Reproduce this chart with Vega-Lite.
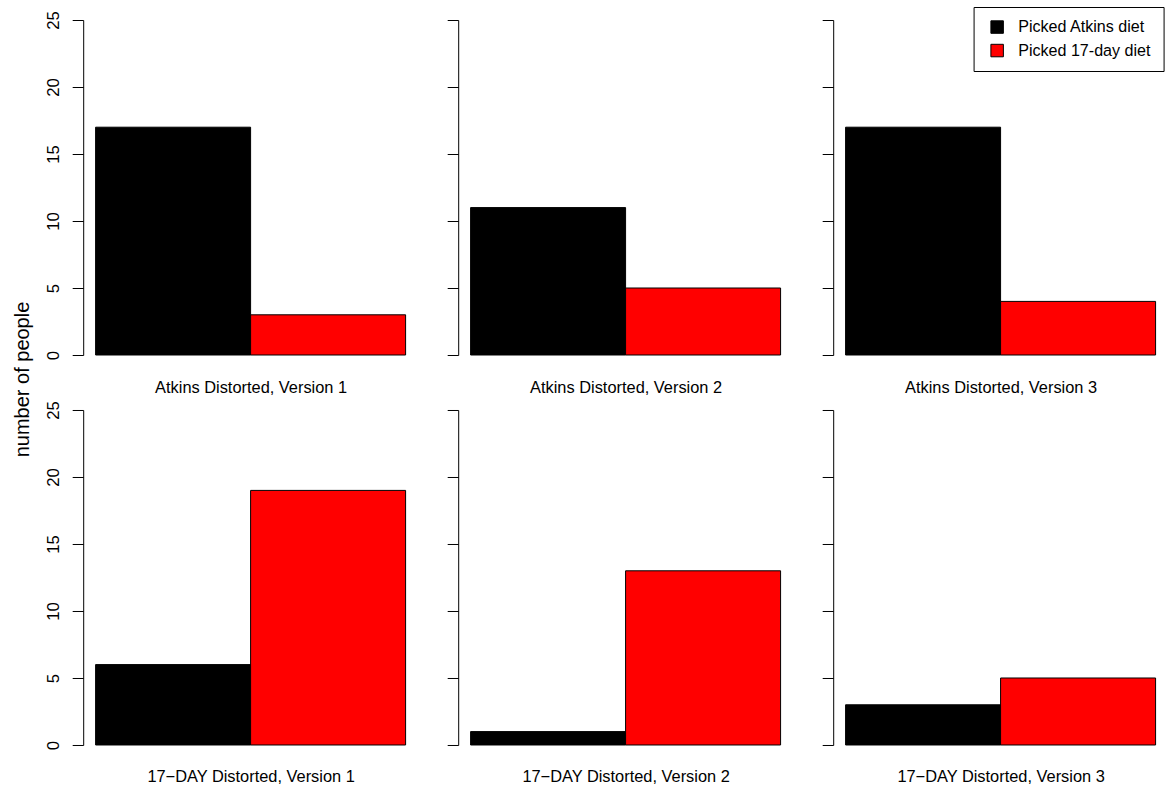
{
  "$schema": "https://vega.github.io/schema/vega-lite/v6.json",
  "padding": {"left": 12.2, "top": 6, "right": 0, "bottom": 0},
  "background": "white",
  "config": {
    "font": "Liberation Sans",
    "view": {"stroke": null},
    "axis": {"grid": false, "domainColor": "black", "tickColor": "black", "labelColor": "black", "titleColor": "black", "labelFont": "Liberation Sans", "titleFont": "Liberation Sans", "labelFontSize": 16.7, "titleFontSize": 16.4, "titleFontWeight": "normal", "domainWidth": 1, "tickWidth": 1},
    "legend": {"labelFont": "Liberation Sans", "labelFontSize": 16.1, "labelColor": "black", "labelLimit": 400}
  },
  "datasets": {
    "d": [
      {"panel": "Atkins Distorted, Version 1", "choice": "Picked Atkins diet", "count": 17},
      {"panel": "Atkins Distorted, Version 1", "choice": "Picked 17-day diet", "count": 3},
      {"panel": "Atkins Distorted, Version 2", "choice": "Picked Atkins diet", "count": 11},
      {"panel": "Atkins Distorted, Version 2", "choice": "Picked 17-day diet", "count": 5},
      {"panel": "Atkins Distorted, Version 3", "choice": "Picked Atkins diet", "count": 17},
      {"panel": "Atkins Distorted, Version 3", "choice": "Picked 17-day diet", "count": 4},
      {"panel": "17\u2212DAY Distorted, Version 1", "choice": "Picked Atkins diet", "count": 6},
      {"panel": "17\u2212DAY Distorted, Version 1", "choice": "Picked 17-day diet", "count": 19},
      {"panel": "17\u2212DAY Distorted, Version 2", "choice": "Picked Atkins diet", "count": 1},
      {"panel": "17\u2212DAY Distorted, Version 2", "choice": "Picked 17-day diet", "count": 13},
      {"panel": "17\u2212DAY Distorted, Version 3", "choice": "Picked Atkins diet", "count": 3},
      {"panel": "17\u2212DAY Distorted, Version 3", "choice": "Picked 17-day diet", "count": 5}
    ]
  },
  "columns": 3,
  "bounds": "flush",
  "spacing": {"row": 55, "column": 40},
  "concat": [
    {
      "width": 334.8, "height": 335,
      "data": {"name": "d"},
      "transform": [{"filter": "datum.panel === 'Atkins Distorted, Version 1'"}],
      "mark": {"type": "bar", "stroke": "black", "strokeWidth": 1},
      "encoding": {
        "x": {"field": "choice", "type": "nominal", "sort": ["Picked Atkins diet", "Picked 17-day diet"], "scale": {"paddingInner": 0, "paddingOuter": 0.08}, "title": "Atkins Distorted, Version 1", "axis": {"labels": false, "ticks": false, "domain": false, "titlePadding": 37, "titleBaseline": "alphabetic"}},
        "y": {"field": "count", "type": "quantitative", "scale": {"domain": [0, 25], "nice": false}, "axis": {"values": [0, 5, 10, 15, 20, 25], "tickSize": 11, "labelAngle": -90, "labelAlign": "center", "labelBaseline": "alphabetic", "labelPadding": 13.7, "title": "number of people", "titleFontSize": 20, "titleAngle": -90, "titleAlign": "center", "titleBaseline": "alphabetic", "titleX": -54.6, "titleY": 359}},
        "color": {"field": "choice", "type": "nominal", "scale": {"domain": ["Picked Atkins diet", "Picked 17-day diet"], "range": ["#000000", "#ff0000"]}, "legend": {"title": null, "orient": "none", "legendX": 890.4, "legendY": -13, "strokeColor": "black", "fillColor": "white", "padding": 12, "symbolType": "square", "symbolSize": 156, "symbolStrokeColor": "black", "symbolStrokeWidth": 1, "symbolOpacity": 1, "symbolOffset": 3.5, "labelOffset": 13, "rowPadding": 5.5}}
      }
    },
    {
      "width": 334.8, "height": 335,
      "data": {"name": "d"},
      "transform": [{"filter": "datum.panel === 'Atkins Distorted, Version 2'"}],
      "mark": {"type": "bar", "stroke": "black", "strokeWidth": 1},
      "encoding": {
        "x": {"field": "choice", "type": "nominal", "sort": ["Picked Atkins diet", "Picked 17-day diet"], "scale": {"paddingInner": 0, "paddingOuter": 0.08}, "title": "Atkins Distorted, Version 2", "axis": {"labels": false, "ticks": false, "domain": false, "titlePadding": 37, "titleBaseline": "alphabetic"}},
        "y": {"field": "count", "type": "quantitative", "scale": {"domain": [0, 25], "nice": false}, "axis": {"values": [0, 5, 10, 15, 20, 25], "tickSize": 11, "labels": false, "title": null}},
        "color": {"field": "choice", "type": "nominal", "scale": {"domain": ["Picked Atkins diet", "Picked 17-day diet"], "range": ["#000000", "#ff0000"]}, "legend": {"title": null, "orient": "none", "legendX": 890.4, "legendY": -13, "strokeColor": "black", "fillColor": "white", "padding": 12, "symbolType": "square", "symbolSize": 156, "symbolStrokeColor": "black", "symbolStrokeWidth": 1, "symbolOpacity": 1, "symbolOffset": 3.5, "labelOffset": 13, "rowPadding": 5.5}}
      }
    },
    {
      "width": 334.8, "height": 335,
      "data": {"name": "d"},
      "transform": [{"filter": "datum.panel === 'Atkins Distorted, Version 3'"}],
      "mark": {"type": "bar", "stroke": "black", "strokeWidth": 1},
      "encoding": {
        "x": {"field": "choice", "type": "nominal", "sort": ["Picked Atkins diet", "Picked 17-day diet"], "scale": {"paddingInner": 0, "paddingOuter": 0.08}, "title": "Atkins Distorted, Version 3", "axis": {"labels": false, "ticks": false, "domain": false, "titlePadding": 37, "titleBaseline": "alphabetic"}},
        "y": {"field": "count", "type": "quantitative", "scale": {"domain": [0, 25], "nice": false}, "axis": {"values": [0, 5, 10, 15, 20, 25], "tickSize": 11, "labels": false, "title": null}},
        "color": {"field": "choice", "type": "nominal", "scale": {"domain": ["Picked Atkins diet", "Picked 17-day diet"], "range": ["#000000", "#ff0000"]}, "legend": {"title": null, "orient": "none", "legendX": 890.4, "legendY": -13, "strokeColor": "black", "fillColor": "white", "padding": 12, "symbolType": "square", "symbolSize": 156, "symbolStrokeColor": "black", "symbolStrokeWidth": 1, "symbolOpacity": 1, "symbolOffset": 3.5, "labelOffset": 13, "rowPadding": 5.5}}
      }
    },
    {
      "width": 334.8, "height": 335,
      "data": {"name": "d"},
      "transform": [{"filter": "datum.panel === '17\u2212DAY Distorted, Version 1'"}],
      "mark": {"type": "bar", "stroke": "black", "strokeWidth": 1},
      "encoding": {
        "x": {"field": "choice", "type": "nominal", "sort": ["Picked Atkins diet", "Picked 17-day diet"], "scale": {"paddingInner": 0, "paddingOuter": 0.08}, "title": "17\u2212DAY Distorted, Version 1", "axis": {"labels": false, "ticks": false, "domain": false, "titlePadding": 37, "titleBaseline": "alphabetic"}},
        "y": {"field": "count", "type": "quantitative", "scale": {"domain": [0, 25], "nice": false}, "axis": {"values": [0, 5, 10, 15, 20, 25], "tickSize": 11, "labelAngle": -90, "labelAlign": "center", "labelBaseline": "alphabetic", "labelPadding": 13.7, "title": null}},
        "color": {"field": "choice", "type": "nominal", "scale": {"domain": ["Picked Atkins diet", "Picked 17-day diet"], "range": ["#000000", "#ff0000"]}, "legend": {"title": null, "orient": "none", "legendX": 890.4, "legendY": -13, "strokeColor": "black", "fillColor": "white", "padding": 12, "symbolType": "square", "symbolSize": 156, "symbolStrokeColor": "black", "symbolStrokeWidth": 1, "symbolOpacity": 1, "symbolOffset": 3.5, "labelOffset": 13, "rowPadding": 5.5}}
      }
    },
    {
      "width": 334.8, "height": 335,
      "data": {"name": "d"},
      "transform": [{"filter": "datum.panel === '17\u2212DAY Distorted, Version 2'"}],
      "mark": {"type": "bar", "stroke": "black", "strokeWidth": 1},
      "encoding": {
        "x": {"field": "choice", "type": "nominal", "sort": ["Picked Atkins diet", "Picked 17-day diet"], "scale": {"paddingInner": 0, "paddingOuter": 0.08}, "title": "17\u2212DAY Distorted, Version 2", "axis": {"labels": false, "ticks": false, "domain": false, "titlePadding": 37, "titleBaseline": "alphabetic"}},
        "y": {"field": "count", "type": "quantitative", "scale": {"domain": [0, 25], "nice": false}, "axis": {"values": [0, 5, 10, 15, 20, 25], "tickSize": 11, "labels": false, "title": null}},
        "color": {"field": "choice", "type": "nominal", "scale": {"domain": ["Picked Atkins diet", "Picked 17-day diet"], "range": ["#000000", "#ff0000"]}, "legend": {"title": null, "orient": "none", "legendX": 890.4, "legendY": -13, "strokeColor": "black", "fillColor": "white", "padding": 12, "symbolType": "square", "symbolSize": 156, "symbolStrokeColor": "black", "symbolStrokeWidth": 1, "symbolOpacity": 1, "symbolOffset": 3.5, "labelOffset": 13, "rowPadding": 5.5}}
      }
    },
    {
      "width": 334.8, "height": 335,
      "data": {"name": "d"},
      "transform": [{"filter": "datum.panel === '17\u2212DAY Distorted, Version 3'"}],
      "mark": {"type": "bar", "stroke": "black", "strokeWidth": 1},
      "encoding": {
        "x": {"field": "choice", "type": "nominal", "sort": ["Picked Atkins diet", "Picked 17-day diet"], "scale": {"paddingInner": 0, "paddingOuter": 0.08}, "title": "17\u2212DAY Distorted, Version 3", "axis": {"labels": false, "ticks": false, "domain": false, "titlePadding": 37, "titleBaseline": "alphabetic"}},
        "y": {"field": "count", "type": "quantitative", "scale": {"domain": [0, 25], "nice": false}, "axis": {"values": [0, 5, 10, 15, 20, 25], "tickSize": 11, "labels": false, "title": null}},
        "color": {"field": "choice", "type": "nominal", "scale": {"domain": ["Picked Atkins diet", "Picked 17-day diet"], "range": ["#000000", "#ff0000"]}, "legend": {"title": null, "orient": "none", "legendX": 890.4, "legendY": -13, "strokeColor": "black", "fillColor": "white", "padding": 12, "symbolType": "square", "symbolSize": 156, "symbolStrokeColor": "black", "symbolStrokeWidth": 1, "symbolOpacity": 1, "symbolOffset": 3.5, "labelOffset": 13, "rowPadding": 5.5}}
      }
    }
  ]
}
